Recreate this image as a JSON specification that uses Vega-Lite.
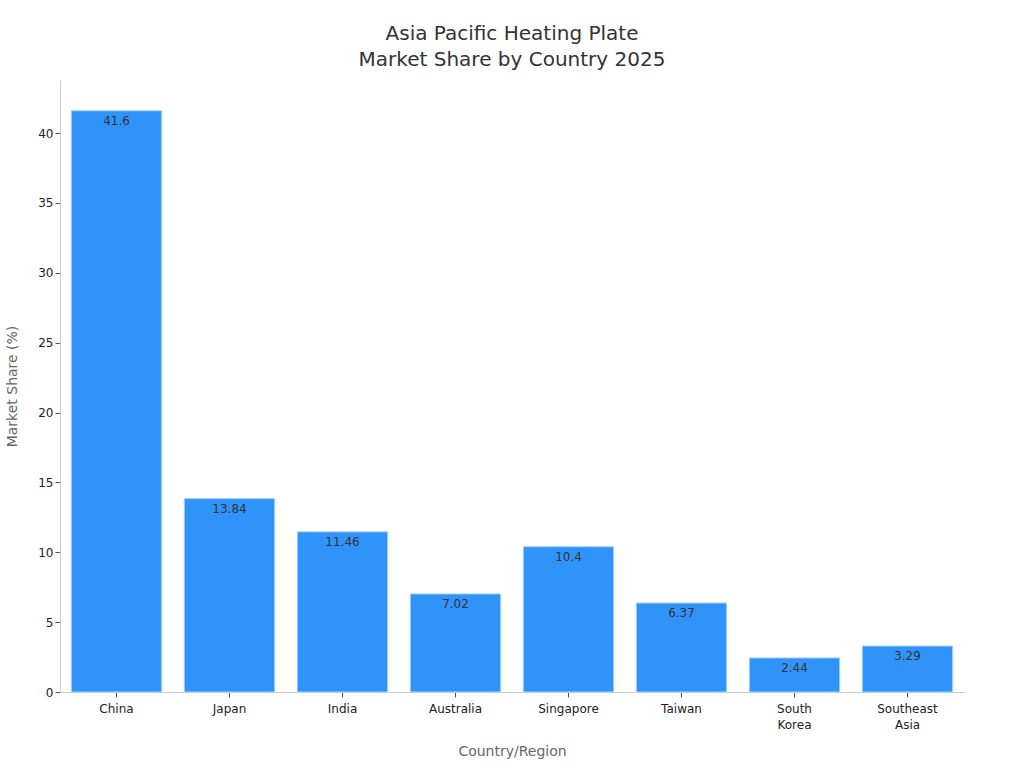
{
  "$schema": "https://vega.github.io/schema/vega-lite/v6.json",
  "autosize": "none",
  "padding": {"left": 60, "top": 80, "right": 60, "bottom": 76},
  "width": 904,
  "height": 612,
  "background": "white",
  "title": {
    "text": ["Asia Pacific Heating Plate", "Market Share by Country 2025"],
    "font": "DejaVu Sans",
    "fontSize": 20,
    "fontWeight": "normal",
    "color": "#333333",
    "anchor": "middle",
    "lineHeight": 26,
    "offset": 10
  },
  "config": {
    "view": {"stroke": null},
    "font": "DejaVu Sans"
  },
  "data": {
    "values": [
      {"country": "China", "share": 41.6},
      {"country": "Japan", "share": 13.84},
      {"country": "India", "share": 11.46},
      {"country": "Australia", "share": 7.02},
      {"country": "Singapore", "share": 10.4},
      {"country": "Taiwan", "share": 6.37},
      {"country": "South Korea", "share": 2.44},
      {"country": "Southeast Asia", "share": 3.29}
    ]
  },
  "encoding": {
    "x": {
      "field": "country",
      "type": "nominal",
      "sort": null,
      "scale": {"paddingInner": 0.2, "paddingOuter": 0.1},
      "axis": {
        "title": "Country/Region",
        "titleFont": "DejaVu Sans",
        "titleFontSize": 14,
        "titleFontWeight": "normal",
        "titleColor": "#666666",
        "titlePadding": 14,
        "labelAngle": 0,
        "labelFontSize": 12,
        "labelColor": "#222222",
        "labelExpr": "split(datum.label, ' ')",
        "labelLineHeight": 16,
        "domainColor": "#cccccc",
        "tickColor": "#555555",
        "tickSize": 5,
        "labelPadding": 6
      }
    },
    "y": {
      "field": "share",
      "type": "quantitative",
      "scale": {"domain": [0, 43.8], "nice": false},
      "axis": {
        "title": "Market Share (%)",
        "titleFont": "DejaVu Sans",
        "titleFontSize": 14,
        "titleFontWeight": "normal",
        "titleColor": "#666666",
        "titlePadding": 18,
        "values": [0, 5, 10, 15, 20, 25, 30, 35, 40],
        "labelFontSize": 12,
        "labelColor": "#222222",
        "grid": false,
        "domainColor": "#cccccc",
        "tickColor": "#555555",
        "tickSize": 5
      }
    }
  },
  "layer": [
    {
      "mark": {"type": "bar", "color": "#2f93fa", "stroke": "#a9d2fb", "strokeWidth": 1}
    },
    {
      "mark": {"type": "text", "baseline": "top", "dy": 5, "fontSize": 12, "color": "#333333"},
      "encoding": {"text": {"field": "share", "type": "quantitative"}}
    }
  ]
}
